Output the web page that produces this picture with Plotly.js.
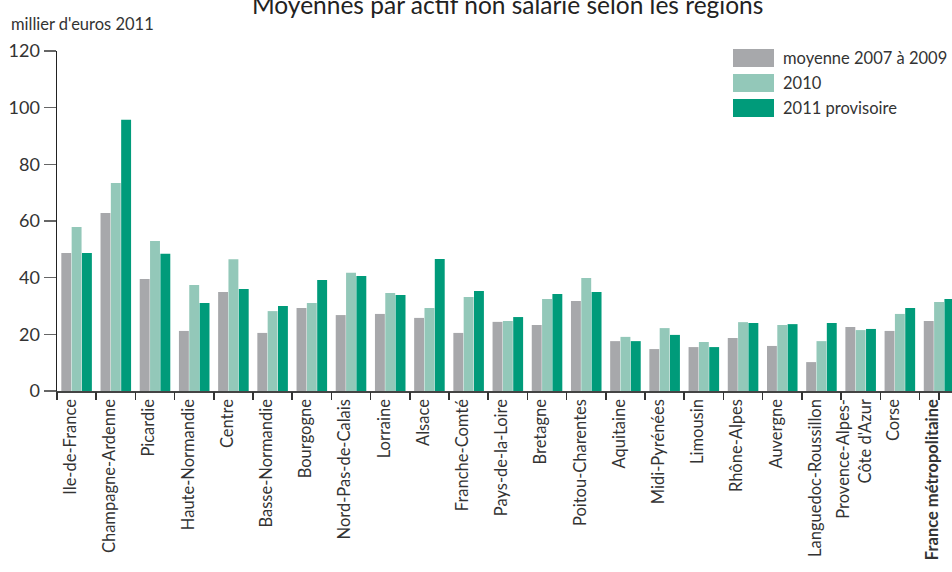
<!DOCTYPE html>
<html><head><meta charset="utf-8">
<script src="https://cdn.plot.ly/plotly-3.0.1.min.js"></script>
<style>html,body{margin:0;padding:0;background:#fff;overflow:hidden}</style>
</head><body><div id="chart" style="width:952px;height:572px"></div>
<script>
const regions = ["Ile-de-France","Champagne-Ardenne","Picardie","Haute-Normandie","Centre","Basse-Normandie","Bourgogne","Nord-Pas-de-Calais","Lorraine","Alsace","Franche-Comté","Pays-de-la-Loire","Bretagne","Poitou-Charentes","Aquitaine","Midi-Pyrénées","Limousin","Rhône-Alpes","Auvergne","Languedoc-Roussillon","Provence-Alpes-<br>Côte d'Azur","Corse","<b>France métropolitaine</b>"];
const moyenne0709 = [48.7,62.8,39.5,21.2,34.9,20.5,29.3,26.8,27.2,25.8,20.5,24.4,23.3,31.8,17.6,14.8,15.5,18.7,15.9,10.2,22.6,21.2,24.7];
const v2010 =       [57.9,73.4,52.9,37.4,46.5,28.2,31.1,41.7,34.6,29.3,33.2,24.7,32.5,39.9,19.1,22.2,17.3,24.3,23.3,17.6,21.5,27.2,31.4];
const v2011 =       [48.7,95.7,48.4,31.1,36.0,30.0,39.2,40.6,33.9,46.6,35.3,26.1,34.2,34.9,17.6,19.8,15.5,24.0,23.6,24.0,21.9,29.3,32.5];
const seriesNames = ["moyenne 2007 à 2009","2010","2011 provisoire"];
const seriesColors = ["#A7A8AB","#93C8B9","#009B7A"];
const yTitle = "millier d'euros 2011";
const chartTitle = "Moyennes par actif non salarié selon les régions";

const FONT = "Lato, 'DejaVu Sans Condensed', sans-serif";
const W = 952, H = 572, L = 57, T = 51, B = 181;
const plotW = W - L, plotH = H - T - B;
const px = x => (x - L) / plotW;
const py = y => (H - B - y) / plotH;

const idx = regions.map((_, i) => i);
const values = [moyenne0709, v2010, v2011];
const traces = values.map((v, k) => ({
  type: "bar", x: idx, y: v, name: seriesNames[k],
  marker: {color: seriesColors[k], line: {width: 0}},
  showlegend: false, hoverinfo: "skip"
}));

const shapes = [], annotations = [];
seriesNames.forEach((n, k) => {
  const cy = 58 + k * 25;
  shapes.push({type: "rect", xref: "paper", yref: "paper",
    x0: px(733), x1: px(774), y0: py(cy + 9), y1: py(cy - 9),
    fillcolor: seriesColors[k], line: {width: 0}});
  annotations.push({xref: "paper", yref: "paper", x: px(781), y: py(cy),
    xanchor: "left", yanchor: "middle", text: n, showarrow: false,
    font: {family: FONT, size: 16.5, color: "#333"}});
});
annotations.push({xref: "paper", yref: "paper", x: px(9), y: py(24),
  xanchor: "left", yanchor: "middle", text: yTitle, showarrow: false,
  font: {family: FONT, size: 16.5, color: "#333"}});
annotations.push({xref: "paper", yref: "paper", x: px(508), y: py(4),
  xanchor: "center", yanchor: "middle", text: chartTitle, showarrow: false,
  font: {family: FONT, size: 24.5, color: "#222"}});

const layout = {
  width: W, height: H,
  margin: {l: L, r: 0, t: T, b: B, pad: 0},
  paper_bgcolor: "#fff", plot_bgcolor: "#fff",
  barmode: "group", bargap: 0.21, bargroupgap: 0.04,
  font: {family: FONT, size: 17, color: "#333"},
  xaxis: {
    type: "linear", range: [-0.5, 22.33],
    tickmode: "array", tickvals: idx, ticktext: regions,
    tickangle: -90, showgrid: false, zeroline: false,
    showline: true, linecolor: "#444", linewidth: 1.5,
    ticks: "", ticklabelshift: -6,
    tickfont: {family: FONT, size: 16.5, color: "#333"}
  },
  xaxis2: {
    overlaying: "x", matches: "x", type: "linear",
    tickmode: "array", tickvals: idx.concat([22.5]).map(i => i - 0.5),
    ticks: "outside", ticklen: 8, tickwidth: 1.5, tickcolor: "#333",
    showticklabels: false, showgrid: false, zeroline: false, showline: false
  },
  yaxis: {
    range: [0, 120], tickmode: "array", tickvals: [0,20,40,60,80,100,120],
    ticks: "outside", ticklen: 12, tickwidth: 1.5, tickcolor: "#666",
    showline: true, linecolor: "#222", linewidth: 1.5,
    showgrid: false, zeroline: false,
    tickfont: {family: FONT, size: 18, color: "#333"}
  },
  shapes, annotations
};
traces.push({type: "scatter", x: [0], y: [0], xaxis: "x2", mode: "markers",
  marker: {opacity: 0}, showlegend: false, hoverinfo: "skip"});

Plotly.newPlot("chart", traces, layout, {displayModeBar: false, staticPlot: true});
</script></body></html>
